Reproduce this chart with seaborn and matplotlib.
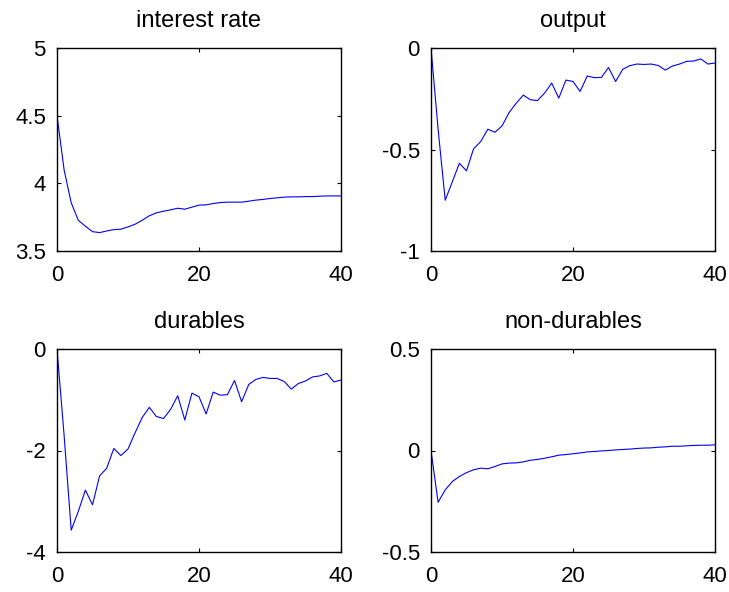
import numpy as np
import pandas as pd
import matplotlib
matplotlib.use("Agg")
import matplotlib.pyplot as plt
from matplotlib.ticker import FuncFormatter
import seaborn as sns

periods = list(range(41))

interest_rate = [4.50, 4.10, 3.856, 3.727, 3.683, 3.643, 3.636, 3.648, 3.658, 3.661,
                 3.678, 3.698, 3.727, 3.760, 3.782, 3.794, 3.804, 3.816, 3.809, 3.824,
                 3.839, 3.841, 3.851, 3.858, 3.861, 3.861, 3.861, 3.868, 3.876, 3.881,
                 3.888, 3.893, 3.898, 3.900, 3.900, 3.902, 3.902, 3.905, 3.907, 3.907, 3.907]

output = [0.0, -0.40, -0.75, -0.659, -0.568, -0.605, -0.496, -0.461, -0.40, -0.415,
          -0.384, -0.318, -0.272, -0.232, -0.255, -0.259, -0.222, -0.173, -0.247, -0.158,
          -0.165, -0.214, -0.138, -0.146, -0.145, -0.096, -0.165, -0.105, -0.087, -0.079,
          -0.081, -0.079, -0.086, -0.109, -0.089, -0.079, -0.066, -0.064, -0.054, -0.079, -0.074]

durables = [0.0, -1.70, -3.57, -3.20, -2.78, -3.07, -2.50, -2.35, -1.96, -2.10,
            -1.97, -1.65, -1.35, -1.15, -1.33, -1.37, -1.19, -0.92, -1.40, -0.87,
            -0.94, -1.28, -0.85, -0.91, -0.90, -0.62, -1.04, -0.70, -0.60, -0.56,
            -0.58, -0.58, -0.64, -0.79, -0.68, -0.63, -0.55, -0.53, -0.48, -0.65, -0.61]

non_durables = [0.0, -0.255, -0.194, -0.153, -0.128, -0.109, -0.095, -0.087, -0.090, -0.079,
                -0.066, -0.062, -0.061, -0.056, -0.048, -0.044, -0.038, -0.031, -0.023, -0.020,
                -0.016, -0.012, -0.007, -0.005, -0.002, 0.000, 0.003, 0.005, 0.007, 0.010,
                0.012, 0.013, 0.016, 0.018, 0.021, 0.021, 0.023, 0.025, 0.026, 0.026, 0.028]

titles = ["interest rate", "output", "durables", "non-durables"]
series = [interest_rate, output, durables, non_durables]
ylims = [(3.5, 5), (-1, 0), (-4, 0), (-0.5, 0.5)]
yticks = [[3.5, 4, 4.5, 5], [-1, -0.5, 0], [-4, -2, 0], [-0.5, 0, 0.5]]
xticks = [0, 20, 40]

sns.set_theme(style="ticks")
plt.rcParams["font.family"] = ["Liberation Sans", "DejaVu Sans"]
plt.rcParams["axes.unicode_minus"] = False

fig = plt.figure(figsize=(7.29, 5.92), dpi=100)
W, H = 729, 592
boxes = [(57, 48), (431, 48), (57, 349), (431, 349)]
aw, ah = 284, 203

fmt = FuncFormatter(lambda v, p: "%g" % v)

for (x0, y0), title, vals, yl, yt in zip(boxes, titles, series, ylims, yticks):
    ax = fig.add_axes([x0 / W, 1 - (y0 + ah) / H, aw / W, ah / H])
    df = pd.DataFrame({"t": periods, "v": vals})
    sns.lineplot(data=df, x="t", y="v", ax=ax, color="#0000ff", linewidth=0.8)
    ax.set_xlim(0, 40)
    ax.set_ylim(*yl)
    ax.set_xticks(xticks)
    ax.set_yticks(yt)
    ax.yaxis.set_major_formatter(fmt)
    ax.set_xlabel("")
    ax.set_ylabel("")
    ax.set_title(title, fontsize=17, pad=15, color="black")
    ax.tick_params(direction="in", length=3, width=0.8, top=True, right=True,
                   labelsize=16, colors="black")
    ax.tick_params(axis="x", pad=10)
    ax.tick_params(axis="y", pad=8)
    for s in ax.spines.values():
        s.set_linewidth(1.0)
        s.set_color("black")

fig.savefig("out.png", dpi=100)
